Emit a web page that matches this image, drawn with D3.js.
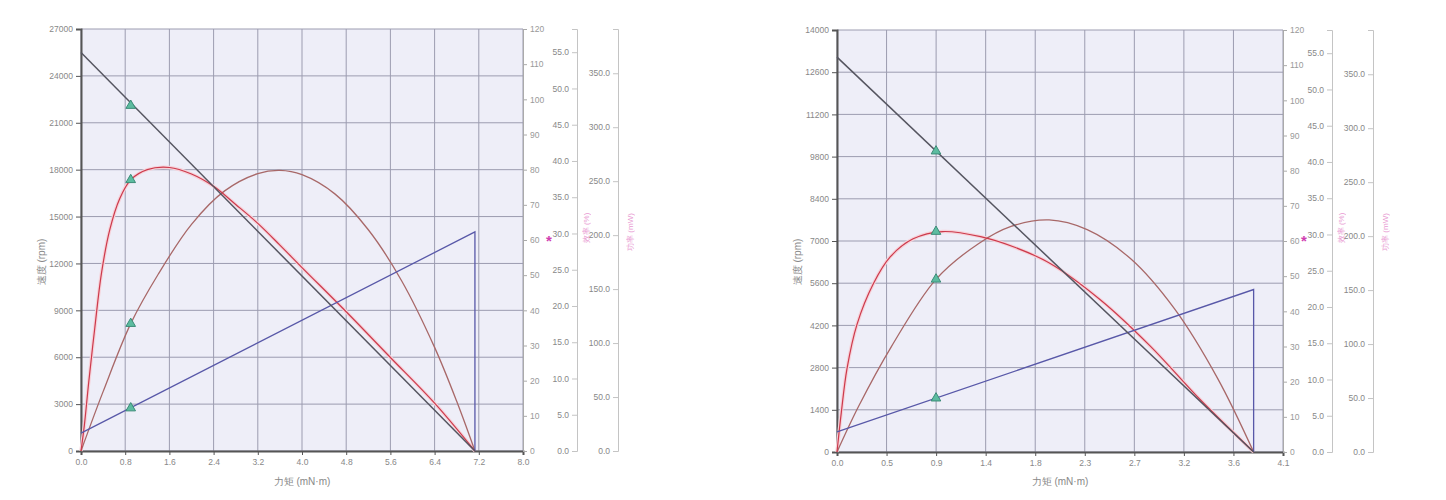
<!DOCTYPE html>
<html><head><meta charset="utf-8">
<script src="https://cdn.jsdelivr.net/npm/d3@7"></script>
<style>body{margin:0;background:#fff;} text{font-family:"Liberation Sans",Arial,sans-serif;}</style>
</head><body><svg id="c" width="1446" height="500"></svg>
<script>
// ---------- tick labels ----------
const speedTicksA = [0,3000,6000,9000,12000,15000,18000,21000,24000,27000];
const speedTicksB = [0,1400,2800,4200,5600,7000,8400,9800,11200,12600,14000];
const torqueTicksA = [0,0.8,1.6,2.4,3.2,4.0,4.8,5.6,6.4,7.2,8.0];
const torqueLabelsB = ["0.0","0.5","0.9","1.4","1.8","2.3","2.7","3.2","3.6","4.1"];
const currentTicks = [0,10,20,30,40,50,60,70,80,90,100,110,120];
const effTicks = [0,5,10,15,20,25,30,35,40,45,50,55];
const powerTicks = [0,50,100,150,200,250,300,350];

// ---------- chart A series ----------
const speedA = [[0,25500],[7.13,0]];
const currentA = [[0,5.1],[7.13,62.3],[7.13,0]];
const effA = [[0,0],[0.06,3.5],[0.14,9.5],[0.25,17],[0.37,24.5],[0.52,30.5],[0.7,34.8],[0.9,37.4],[1.2,38.8],[1.6,39.1],[2.0,38.2],[2.4,36.5],[2.8,34],[3.2,31.4],[3.6,28.4],[4.0,25.3],[4.8,19.2],[5.6,12.9],[6.4,6.6],[7.13,0]];
const powerA = [[0,0],[0.4,55],[0.9,118],[1.4,164],[2.0,210],[2.6,241],[3.2,257],[3.6,260],[4.0,256],[4.6,238],[5.2,205],[5.8,158],[6.4,96],[6.8,46],[7.13,0]];
const markersA = {torque:0.9, speed:22100, eff:37.4, power:118, current:12.2};

// ---------- chart B series ----------
const speedB = [[0,13100],[3.83,0]];
const currentB = [[0,5.7],[3.83,46.2],[3.83,0]];
const effB = [[0,0],[0.04,5.5],[0.092,11.5],[0.184,17.6],[0.334,23.2],[0.489,26.9],[0.7,29.4],[0.97,30.4],[1.32,29.7],[1.64,28.2],[1.96,26.0],[2.42,21.0],[2.88,14.6],[3.34,7.2],[3.83,0]];
const powerB = [[0,0],[0.2,42.6],[0.5,97.7],[0.91,160],[1.3,193],[1.6,209],[1.95,215],[2.3,206],[2.7,179],[3.1,133],[3.5,68],[3.83,0]];
const markersB = {torque:0.91, speed:9980, eff:30.4, power:160, current:15.3};

const svg = d3.select("#c");
const C = {bg:"#eeeef8", grid:"#9c9cb0", axis:"#555", text:"#888", speed:"#555560", current:"#5858a8", eff:"#cc3a4c", effHalo:"#f6d2da", power:"#a86868", tri:"#5cbca0", triStroke:"#3b8c78", side:"#c4c4c4", pink:"#e070c0"};

function draw(L, xDomain, xTicks, xLabels, yMax, yTicks, sp, cur, eff, pw, mk) {
  const g = svg.append("g");
  const x = d3.scaleLinear().domain(xDomain).range([L.x0, L.x1]);
  const y = d3.scaleLinear().domain([0, yMax]).range([L.yB, L.yT]);
  const yc = d3.scaleLinear().domain([0, 120]).range([L.yB, L.yT]);
  const ye = d3.scaleLinear().domain([0, 58.2]).range([L.yB, L.yT]);
  const yp = d3.scaleLinear().domain([0, 391]).range([L.yB, L.yT]);

  g.append("rect").attr("x", L.x0).attr("y", L.yT).attr("width", L.x1-L.x0).attr("height", L.yB-L.yT).attr("fill", C.bg);
  g.selectAll(".gv").data(xTicks).join("line").attr("x1", d=>x(d)).attr("x2", d=>x(d)).attr("y1", L.yT).attr("y2", L.yB).attr("stroke", C.grid).attr("stroke-width", 1);
  g.selectAll(".gh").data(yTicks).join("line").attr("x1", L.x0).attr("x2", L.x1).attr("y1", d=>y(d)).attr("y2", d=>y(d)).attr("stroke", C.grid).attr("stroke-width", 1);

  const la = g.append("g").attr("transform", `translate(${L.x0},0)`).call(d3.axisLeft(y).tickValues(yTicks).tickSize(5).tickPadding(3).tickFormat(d3.format("d")));
  const ba = g.append("g").attr("transform", `translate(0,${L.yB})`).call(d3.axisBottom(x).tickValues(xTicks).tickSize(4).tickPadding(4).tickFormat((d,i)=>xLabels[i]));
  const ra = g.append("g").attr("transform", `translate(${L.x1},0)`).call(d3.axisRight(yc).tickValues(currentTicks).tickSize(4).tickPadding(3).tickFormat(d3.format("d")));
  const ea = g.append("g").attr("transform", `translate(${L.ax2},0)`).call(d3.axisLeft(ye).tickValues(effTicks).tickSize(5).tickPadding(3).tickFormat(d3.format(".1f")));
  const pa = g.append("g").attr("transform", `translate(${L.ax3},0)`).call(d3.axisLeft(yp).tickValues(powerTicks).tickSize(5).tickPadding(3).tickFormat(d3.format(".1f")));

  [la, ba].forEach(a => { a.select(".domain").attr("stroke", C.axis).attr("stroke-width", 2); a.selectAll(".tick line").attr("stroke", C.axis); });
  [ra].forEach(a => { a.select(".domain").attr("stroke", "#aaa"); a.selectAll(".tick line").attr("stroke", "#aaa"); });
  [ea, pa].forEach(a => { a.select(".domain").attr("stroke", C.side); a.selectAll(".tick line").attr("stroke", C.side); });
  [la, ba, ra, ea, pa].forEach(a => a.selectAll("text").attr("fill", C.text).attr("font-size", 8.5).attr("font-family", "Liberation Sans, Arial, sans-serif"));
  ra.selectAll("text").attr("fill", "#999");

  g.append("text").attr("transform", `translate(${L.x0-36},${262}) rotate(-90)`).attr("text-anchor","middle").attr("fill", C.text).attr("font-size", 10).attr("font-family","Noto Sans CJK SC").text("速度 (rpm)");
  g.append("text").attr("x", (L.x0+L.x1)/2).attr("y", 485).attr("text-anchor","middle").attr("fill", C.text).attr("font-size", 10).attr("font-family","Noto Sans CJK SC").text("力矩 (mN·m)");
  g.append("text").attr("x", L.ax2-28).attr("y", 246).attr("text-anchor","middle").attr("fill", "#d040b0").attr("font-size", 15).attr("font-weight","bold").text("*");
  g.append("text").attr("transform", `translate(${L.ax2+12},${228}) rotate(-90)`).attr("text-anchor","middle").attr("fill", C.pink).attr("font-size", 8).attr("font-family","Noto Sans CJK SC").attr("opacity",0.7).text("效率 (%)");
  g.append("text").attr("transform", `translate(${L.ax3+15},${232}) rotate(-90)`).attr("text-anchor","middle").attr("fill", C.pink).attr("font-size", 8).attr("font-family","Noto Sans CJK SC").attr("opacity",0.7).text("功率 (mW)");

  const line = (ys) => d3.line().x(d=>x(d[0])).y(d=>ys(d[1]));
  const curve = (ys) => d3.line().x(d=>x(d[0])).y(d=>ys(d[1])).curve(d3.curveCatmullRom.alpha(0.5));

  g.append("path").datum(eff).attr("d", curve(ye)).attr("fill","none").attr("stroke", C.effHalo).attr("stroke-width", 3.5);
  g.append("path").datum(pw).attr("d", curve(yp)).attr("fill","none").attr("stroke", C.power).attr("stroke-width", 1.3);
  g.append("path").datum(eff).attr("d", curve(ye)).attr("fill","none").attr("stroke", C.eff).attr("stroke-width", 1.2);
  g.append("path").datum(cur).attr("d", line(yc)).attr("fill","none").attr("stroke", C.current).attr("stroke-width", 1.3);
  g.append("path").datum(sp).attr("d", line(y)).attr("fill","none").attr("stroke", C.speed).attr("stroke-width", 1.5);

  const tri = d3.symbol().type(d3.symbolTriangle).size(40);
  const pts = [[mk.torque, y(mk.speed)], [mk.torque, ye(mk.eff)], [mk.torque, yp(mk.power)], [mk.torque, yc(mk.current)]];
  g.selectAll(".tri").data(pts).join("path").attr("d", tri).attr("transform", d=>`translate(${x(d[0])},${d[1]})`).attr("fill", C.tri).attr("stroke", C.triStroke).attr("stroke-width", 1);
}

draw({x0:81,x1:523,yT:29,yB:451,ax2:577,ax3:618}, [0,8], torqueTicksA, torqueTicksA.map(d=>d3.format(".1f")(d)), 27000, speedTicksA, speedA, currentA, effA, powerA, markersA);
draw({x0:837,x1:1283,yT:30,yB:452,ax2:1332,ax3:1373}, [0,4.1], torqueLabelsB.map((d,i)=>i*4.1/9), torqueLabelsB, 14000, speedTicksB, speedB, currentB, effB, powerB, markersB);
</script></body></html>
